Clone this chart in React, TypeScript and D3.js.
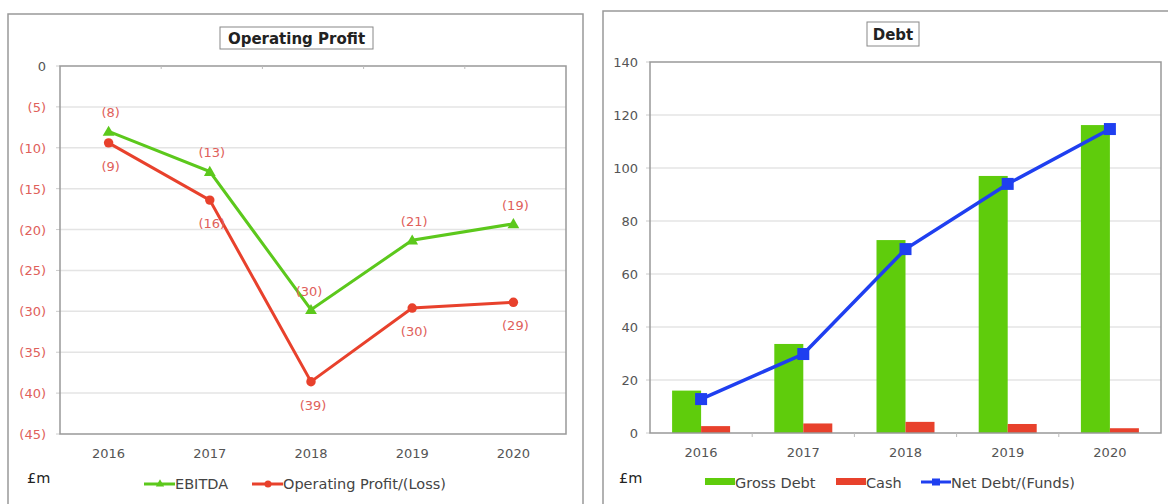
import React from "react";
import * as d3 from "d3";

const years = ["2016", "2017", "2018", "2019", "2020"];
const ebitda = [-8, -12.9, -29.8, -21.3, -19.3];
const opProfit = [-9.4, -16.4, -38.6, -29.6, -28.9];
const opTicks = [0, -5, -10, -15, -20, -25, -30, -35, -40, -45];

const grossDebt = [16, 33.6, 72.8, 97, 116.2];
const cash = [2.6, 3.6, 4.2, 3.4, 1.8];
const netDebt = [12.8, 29.8, 69.4, 94, 114.7];
const debtTicks = [0, 20, 40, 60, 80, 100, 120, 140];

const GREEN = "#5cc81c";
const RED = "#e8412c";
const BLUE = "#1f3ff0";
const LABEL_RED = "#e0605a";
const FONT = "'DejaVu Sans', Verdana, sans-serif";
const TICK_FS = 13;
const LEG_FS = 14.5;

const fmtNeg = (v: number) => (v === 0 ? "0" : `(${Math.round(Math.abs(v))})`);

function OperatingProfit() {
  const L = 60, R = 566, T = 66, B = 434;
  const x = d3.scaleBand<string>().domain(years).range([L, R]);
  const cx = (d: string) => (x(d) as number) + x.bandwidth() / 2 - 2;
  const y = d3.scaleLinear().domain([-45, 0]).range([B, T]);
  const line = d3.line<number>().x((_, i) => cx(years[i])).y((v) => y(v));
  const tri = d3.symbol().type(d3.symbolTriangle).size(60)();
  const circ = d3.symbol().type(d3.symbolCircle).size(70)();
  return (
    <g fontFamily={FONT}>
      <rect x={8} y={14} width={575} height={500} fill="#fff" stroke="#999" strokeWidth={1.5} />
      <rect x={220} y={27} width={153} height={22} fill="#fff" stroke="#888" strokeWidth={1} />
      <text x={296.5} y={44} textAnchor="middle" fontWeight="bold" fontSize={15} fill="#222">Operating Profit</text>
      {opTicks.map((t) => (
        <g key={t}>
          {t !== 0 && t !== -45 && <line x1={L} x2={R} y1={y(t)} y2={y(t)} stroke="#e4e4e4" strokeWidth={1.5} />}
          <line x1={L - 4} x2={L} y1={y(t)} y2={y(t)} stroke="#ccc" />
          <text x={46} y={y(t) + 5} textAnchor="end" fontSize={TICK_FS} fill={t === 0 ? "#555" : LABEL_RED}>{fmtNeg(t)}</text>
        </g>
      ))}
      <rect x={L} y={T} width={R - L} height={B - T} fill="none" stroke="#999" strokeWidth={1.5} />
      {years.slice(1).map((yr) => (
        <line key={yr} x1={x(yr)} x2={x(yr)} y1={T} y2={T + 3} stroke="#bbb" />
      ))}
      {years.map((yr) => (
        <text key={yr} x={cx(yr)} y={458} textAnchor="middle" fontSize={TICK_FS} fill="#555">{yr}</text>
      ))}
      <path d={line(ebitda) as string} fill="none" stroke={GREEN} strokeWidth={3} />
      <path d={line(opProfit) as string} fill="none" stroke={RED} strokeWidth={3} />
      {ebitda.map((v, i) => (
        <path key={"e" + i} d={tri as string} transform={`translate(${cx(years[i])},${y(v) + 1})`} fill={GREEN} />
      ))}
      {opProfit.map((v, i) => (
        <path key={"o" + i} d={circ as string} transform={`translate(${cx(years[i])},${y(v)})`} fill={RED} />
      ))}
      {ebitda.map((v, i) => (
        <text key={"el" + i} x={cx(years[i]) + (i === 2 ? -2 : 2)} y={y(v) - 14} textAnchor="middle" fontSize={TICK_FS} fill={LABEL_RED}>{fmtNeg(v)}</text>
      ))}
      {opProfit.map((v, i) => (
        <text key={"ol" + i} x={cx(years[i]) + 2} y={y(v) + 28} textAnchor="middle" fontSize={TICK_FS} fill={LABEL_RED}>{fmtNeg(v)}</text>
      ))}
      <text x={27} y={483} fontSize={LEG_FS} fill="#222">£m</text>
      <line x1={144} x2={175} y1={484} y2={484} stroke={GREEN} strokeWidth={3} />
      <path d={d3.symbol().type(d3.symbolTriangle).size(30)() as string} transform="translate(160,484)" fill={GREEN} />
      <text x={175} y={489} fontSize={LEG_FS} fill="#444">EBITDA</text>
      <line x1={252} x2={283} y1={484} y2={484} stroke={RED} strokeWidth={3} />
      <circle cx={268} cy={484} r={3.5} fill={RED} />
      <text x={283} y={489} fontSize={LEG_FS} fill="#444">Operating Profit/(Loss)</text>
    </g>
  );
}

function Debt() {
  const L = 650, R = 1161, T = 62, B = 433;
  const x = d3.scaleBand<string>().domain(years).range([L, R]);
  const cx = (d: string) => (x(d) as number) + x.bandwidth() / 2;
  const y = d3.scaleLinear().domain([0, 140]).range([B, T]);
  const bw = 29;
  const line = d3.line<number>().x((_, i) => cx(years[i])).y((v) => y(v));
  return (
    <g fontFamily={FONT}>
      <rect x={603} y={11} width={600} height={510} fill="#fff" stroke="#999" strokeWidth={1.5} />
      <rect x={867} y={22} width={52} height={24} fill="#fff" stroke="#888" strokeWidth={1} />
      <text x={893} y={40} textAnchor="middle" fontWeight="bold" fontSize={15} fill="#222">Debt</text>
      {debtTicks.map((t) => (
        <g key={t}>
          {t !== 0 && t !== 140 && <line x1={L} x2={R} y1={y(t)} y2={y(t)} stroke="#e4e4e4" strokeWidth={1.5} />}
          <line x1={L - 4} x2={L} y1={y(t)} y2={y(t)} stroke="#ccc" />
          <text x={638} y={y(t) + 5} textAnchor="end" fontSize={TICK_FS} fill="#555">{t}</text>
        </g>
      ))}
      {grossDebt.map((v, i) => (
        <rect key={"g" + i} x={cx(years[i]) - bw} y={y(v)} width={bw} height={B - y(v)} fill="#5fcc0c" />
      ))}
      {cash.map((v, i) => (
        <rect key={"c" + i} x={cx(years[i])} y={y(v)} width={bw} height={B - y(v)} fill={RED} />
      ))}
      <rect x={L} y={T} width={R - L} height={B - T} fill="none" stroke="#999" strokeWidth={1.5} />
      {years.slice(1).map((yr) => (
        <line key={yr} x1={x(yr)} x2={x(yr)} y1={B} y2={B + 4} stroke="#bbb" />
      ))}
      {years.map((yr) => (
        <text key={yr} x={cx(yr)} y={457} textAnchor="middle" fontSize={TICK_FS} fill="#555">{yr}</text>
      ))}
      <path d={line(netDebt) as string} fill="none" stroke={BLUE} strokeWidth={3.5} />
      {netDebt.map((v, i) => (
        <rect key={"n" + i} x={cx(years[i]) - 6} y={y(v) - 6} width={12} height={12} fill={BLUE} />
      ))}
      <text x={619} y={483} fontSize={LEG_FS} fill="#222">£m</text>
      <rect x={705} y={478} width={30} height={7} fill="#5fcc0c" />
      <text x={735} y={488} fontSize={LEG_FS} fill="#444">Gross Debt</text>
      <rect x={836} y={478} width={30} height={7} fill={RED} />
      <text x={866} y={488} fontSize={LEG_FS} fill="#444">Cash</text>
      <line x1={921} x2={951} y1={482} y2={482} stroke={BLUE} strokeWidth={3} />
      <rect x={932} y={478.5} width={8} height={7} fill={BLUE} />
      <text x={951} y={488} fontSize={LEG_FS} fill="#444">Net Debt/(Funds)</text>
    </g>
  );
}

export default function App() {
  return (
    <svg width={1168} height={504} style={{ position: "absolute", left: 0, top: 0 }}>
      <rect width={1168} height={504} fill="#fff" />
      <OperatingProfit />
      <Debt />
    </svg>
  );
}
